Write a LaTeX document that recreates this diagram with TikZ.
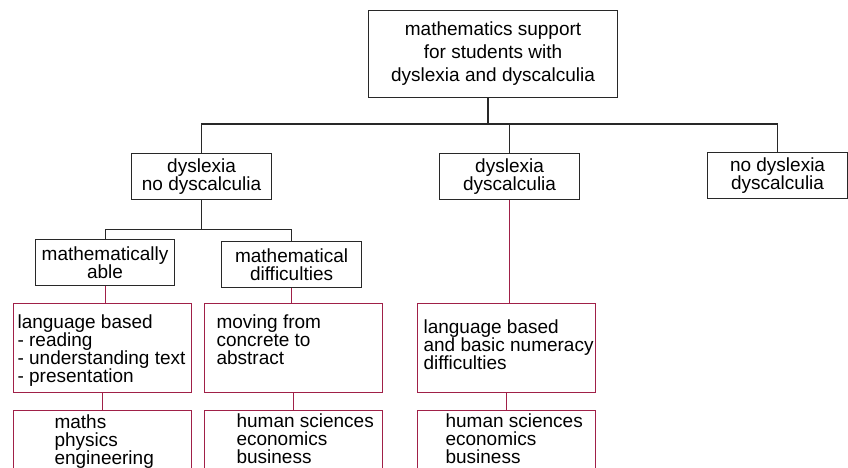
\documentclass[tikz,border=0pt]{standalone}
\usepackage{fontspec}
\setmainfont{Liberation Sans}
\usepackage{tikz}
\usetikzlibrary{positioning}

\definecolor{boxred}{RGB}{160,32,72}
\definecolor{boxgray}{RGB}{40,40,40}

% left pad, first baseline, lines
\newcommand{\listtext}[3]{\parbox[c][89pt][t]{178pt}{\raggedright\leftskip=#1\rule{0pt}{#2}#3}}

\begin{document}
\begin{tikzpicture}[x=1pt, y=-1pt, font=\fontsize{19}{18}\selectfont,
    box/.style={draw=boxgray, line width=1.1pt, inner sep=0pt, align=center,
        minimum width=140pt, minimum height=46pt},
    listbox/.style={draw=boxred, line width=1.1pt, inner sep=0pt},
    tree/.style={draw=boxgray, line width=1.1pt},
    stem/.style={draw=boxred, line width=1.1pt}]
    \useasboundingbox (0,0) rectangle (848,467);
    \clip (0,0) rectangle (848,467);

    \node[box, minimum width=249pt, minimum height=87pt, font=\fontsize{19}{23}\selectfont,
        anchor=north west] (top) at (368,10)
        {mathematics support\\for students with\\dyslexia and dyscalculia};

    \node[box, anchor=north west] (dysno) at (131,153) {dyslexia\\no dyscalculia};
    \node[box, anchor=north west] (dysboth) at (439,153) {dyslexia\\dyscalculia};
    \node[box, anchor=north west] (nodys) at (707,152) {no dyslexia\\dyscalculia};

    \node[box, minimum width=139pt, anchor=north west] (able) at (35,239) {mathematically\\able};
    \node[box, anchor=north west] (diff) at (221,241) {mathematical\\difficulties};

    \node[listbox, anchor=north west] (lang) at (13,303)
        {\listtext{4pt}{25pt}{language based\\- reading\\- understanding text\\- presentation}};
    \node[listbox, anchor=north west] (concrete) at (204,303)
        {\listtext{12pt}{25pt}{moving from\\concrete to\\abstract}};
    \node[listbox, anchor=north west] (numeracy) at (417,303)
        {\listtext{6pt}{30pt}{language based\\and basic numeracy\\difficulties}};

    \node[listbox] (maths) [below=17pt of lang]
        {\listtext{41pt}{18pt}{maths\\physics\\engineering}};
    \node[listbox] (humsci) [below=17pt of concrete]
        {\listtext{32pt}{17pt}{human sciences\\economics\\business}};
    \node[listbox] (humsci2) [below=17pt of numeracy]
        {\listtext{28pt}{17pt}{human sciences\\economics\\business}};

    \coordinate (hub) at (488,124);
    \draw[tree] (top.south -| hub) -- (hub);
    \draw[tree] (dysno.north) |- (hub) -| (nodys.north);
    \draw[tree] (dysboth.north) -- (dysboth.north |- hub);

    \draw[tree] (dysno.south) -- ++(0,29) coordinate (split);
    \draw[tree] (able.north) |- (split) -| (diff.north);

    \draw[stem] (able.south) -- (able.south |- lang.north);
    \draw[stem] (diff.south) -- (diff.south |- concrete.north);
    \draw[stem] (dysboth.south) -- (dysboth.south |- numeracy.north);
    \draw[stem] (lang.south) -- (maths.north);
    \draw[stem] (concrete.south) -- (humsci.north);
    \draw[stem] (numeracy.south) -- (humsci2.north);
\end{tikzpicture}
\end{document}
